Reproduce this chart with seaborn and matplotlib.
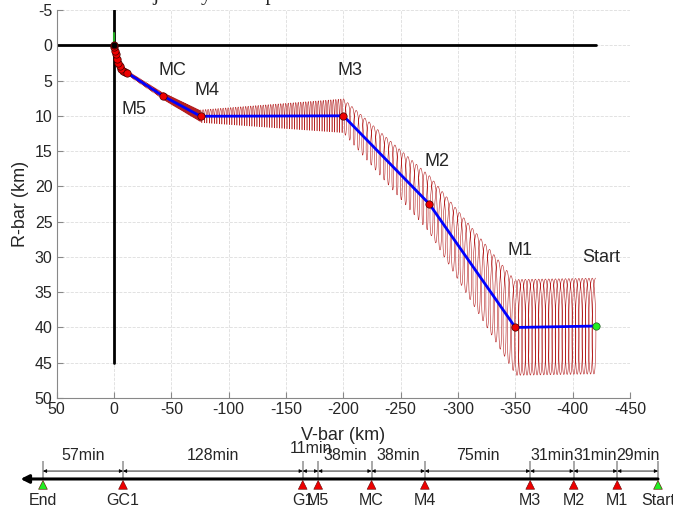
import numpy as np
import pandas as pd
import seaborn as sns
from matplotlib import pyplot as plt

# maneuver points along the approach (V-bar, R-bar in km)
names = ['Start', 'M1', 'M2', 'M3', 'M4', 'MC', 'M5']
vbar = [-420, -350, -275, -200, -75.5, -42.8, -11.5]
rbar = [39.8, 40.0, 22.5, 10.0, 10.06, 7.2, 3.9]

# last drift into the target (small red dots)
final_v = [-9.5, -8.0, -6.5, -5.0, -3.6, -2.4, -1.5, -0.8, -0.3, 0.0]
final_r = [3.8, 3.6, 3.3, 2.95, 2.45, 1.9, 1.3, 0.75, 0.3, 0.0]
green_v = [0.0, 0.0]
green_r = [0.0, -1.8]

# loops of each leg (Start->M1, M1->M2, ... MC->M5)
loop_count = [24, 20, 20, 57, 40, 30]
loop_h_start = [6.8, 6.6, 4.0, 2.4, 0.8, 0.45]
loop_h_end = [6.8, 4.0, 2.4, 0.9, 0.5, 0.3]
loop_w = [2.4, 2.2, 1.6, 0.35, 0.5, 0.4]

# reference axes drawn in black
hline_v = [50, -420]
vline_r = [-5, 45]

# timeline
tl_names = ['Start', 'M1', 'M2', 'M3', 'M4', 'MC', 'M5', 'G1', 'GC1', 'End']
tl_minutes = [29, 31, 31, 75, 38, 38, 11, 128, 57]

sns.set_style('white')
plt.rcParams['font.family'] = ['Liberation Sans', 'DejaVu Sans']
plt.rcParams['axes.unicode_minus'] = False

fig = plt.figure(figsize=(6.73, 5.09), dpi=100)
ax = fig.add_axes([56.7 / 673, 1 - 398 / 509, (630 - 56.7) / 673, (398 - 10) / 509])

ax.plot(hline_v, [0, 0], color='k', lw=2, zorder=1)
ax.plot([0, 0], vline_r, color='k', lw=2, zorder=1)

rows = []
for i in range(len(loop_count)):
    n = loop_count[i]
    t = np.linspace(0, 1, n * 40 + 1)
    cx = vbar[i] + t * (vbar[i + 1] - vbar[i])
    cy = rbar[i] + t * (rbar[i + 1] - rbar[i])
    h = loop_h_start[i] + t * (loop_h_end[i] - loop_h_start[i])
    x = cx + loop_w[i] * np.sin(2 * np.pi * n * t)
    y = cy - h * np.cos(2 * np.pi * n * t)
    rows.append(pd.DataFrame({'V': x, 'R': y, 'leg': i}))
loops = pd.concat(rows, ignore_index=True)
sns.lineplot(data=loops, x='V', y='R', units='leg', estimator=None, sort=False,
             color='#b52020', lw=0.4, ax=ax, zorder=2)

ax.plot(green_v, green_r, color='#22aa22', lw=1.5, zorder=3)

path = pd.DataFrame({'V': vbar + final_v, 'R': rbar + final_r})
sns.lineplot(data=path, x='V', y='R', sort=False, estimator=None, color='#0000ff', lw=2, ax=ax, zorder=4)

sns.scatterplot(x=final_v, y=final_r, color='#ee0000', edgecolor='#400000', linewidth=0.5, s=28, ax=ax, zorder=5)
sns.scatterplot(x=vbar[1:], y=rbar[1:], color='#ee0000', edgecolor='#400000', linewidth=0.5, s=28, ax=ax, zorder=6)
sns.scatterplot(x=vbar[:1], y=rbar[:1], color='#22ee22', edgecolor='#205020', linewidth=0.5, s=28, ax=ax, zorder=6)
ax.scatter([0], [0], color='k', s=12, zorder=7)

label_offsets = {'Start': (6, -69), 'M1': (5, -77), 'M2': (8, -42), 'M3': (7, -45),
                 'M4': (6, -26), 'MC': (9, -26), 'M5': (7, 37)}
for nm, v, r in zip(names, vbar, rbar):
    dx, dy = label_offsets[nm]
    ax.annotate(nm, (v, r), xytext=(dx * 0.72, -dy * 0.72), textcoords='offset points',
                ha='center', va='center', fontsize=13)

ax.set_xlim(50, -450)
ax.set_ylim(50, -5)
ax.set_xticks(range(50, -451, -50))
ax.set_yticks(range(-5, 51, 5))
ax.grid(True, ls='--', color='#dddddd', lw=0.6)
ax.set_axisbelow(True)
for s in ['top', 'right']:
    ax.spines[s].set_visible(False)
for s in ['left', 'bottom']:
    ax.spines[s].set_color('#888888')
ax.tick_params(direction='in', length=4, color='#888888', labelsize=11.5, pad=3,
               bottom=True, left=True)
ax.set_xlabel('V-bar (km)', fontsize=13, labelpad=7)
ax.set_ylabel('R-bar (km)', fontsize=13, labelpad=4)

fig.text(125 / 673, 1.0, 'Trajectory Example', family=['Liberation Serif'], fontsize=15, va='baseline')

# timeline strip under the plot
tax = fig.add_axes([0, 0, 1, 69 / 509])
tax.set_xlim(468.6, -10.7)
tax.set_ylim(0, 1)
tax.axis('off')
cum = np.concatenate([[0], np.cumsum(tl_minutes)])
tax.annotate('', xy=(cum[-1] + 16, 0.435), xytext=(cum[0], 0.435),
             arrowprops=dict(arrowstyle='-|>', lw=2.2, color='k', mutation_scale=12,
                             shrinkA=0, shrinkB=0))
tax.vlines(cum, 0.435, 0.70, color='#999999', lw=1.2)
for i, d in enumerate(tl_minutes):
    tax.annotate('', xy=(cum[i + 1], 0.55), xytext=(cum[i], 0.55),
                 arrowprops=dict(arrowstyle='<|-|>', lw=0.6, color='k', mutation_scale=5,
                                 shrinkA=0, shrinkB=0))
    ty = 0.88 if d < 20 else 0.77
    tax.text((cum[i] + cum[i + 1]) / 2, ty, '{}min'.format(d), ha='center', va='center', fontsize=11.5)
tri_colors = ['#22ee22' if nm in ('Start', 'End') else '#ee0000' for nm in tl_names]
sns.scatterplot(x=cum, y=[0.35] * len(cum), hue=tl_names, palette=tri_colors, marker='^', s=40,
                edgecolor='#600000', linewidth=0.4, legend=False, ax=tax, zorder=5)
for nm, c in zip(tl_names, cum):
    tax.text(c, 0.13, nm, ha='center', va='center', fontsize=11.5)

fig.savefig('out.png', dpi=100)
